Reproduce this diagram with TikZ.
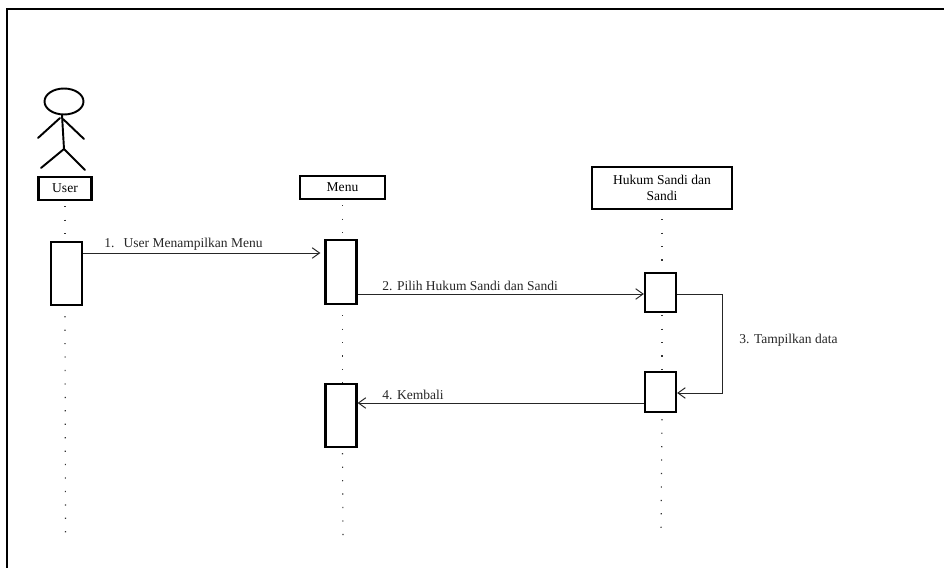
\documentclass[tikz,border=0pt]{standalone}
\usepackage{fontspec}
\setmainfont{Liberation Serif}
\usetikzlibrary{arrows.meta,positioning,shapes.geometric}

\begin{document}
\begin{tikzpicture}[x=0.02cm, y=-0.02cm, >={Straight Barb[length=4.2pt,width=6pt]},
  objbox/.style={draw, line width=1.3pt, inner sep=0pt, align=center, font=\fontsize{7.7}{8.7}\selectfont},
  actbox/.style={draw, line width=1.3pt, fill=white, inner sep=0pt, minimum width=0.62cm},
  msg/.style={->, line width=0.55pt, draw=black!85},
  lifeline/.style={line width=0.65pt, draw=black!80, dash pattern=on 0.7pt off 6.95pt},
  msglabel/.style={anchor=west, inner sep=0pt, font=\fontsize{7.7}{9}\selectfont, text=black!85},
  stick/.style={line width=1.1pt, line cap=round}]
\useasboundingbox (0,0) rectangle (944,568);
% frame
\coordinate (frameTL) at (7,9);
\coordinate (frameR) at (944,9);
\coordinate (frameB) at (7,568);
\draw[line width=1.2pt] (frameB) -- (frameTL) -- (frameR);
% actor
\node (head) [draw, ellipse, line width=1.1pt, minimum width=0.78cm, minimum height=0.52cm, inner sep=0pt] at (64,101.5) {};
\coordinate (neck) at (62,115);
\coordinate (hip) at (64,149);
\coordinate (armL) at (38,138);
\coordinate (armR) at (84,139);
\coordinate (armLTop) at (60,118);
\coordinate (armRTop) at (63,119);
\coordinate (legL) at (41,168);
\coordinate (legR) at (85,170);
\draw[stick] (neck) -- (hip);
\draw[stick] (armL) -- (armLTop);
\draw[stick] (armR) -- (armRTop);
\draw[stick] (legL) -- (hip) -- (legR);
% objects
\node (user) [objbox, minimum width=1.06cm, minimum height=0.46cm] at (65,188.5) {User};
\node (menu) [objbox, minimum width=1.7cm, minimum height=0.46cm] at (342.5,187.5) {Menu};
\node (hukum) [objbox, minimum width=2.8cm, minimum height=0.84cm] at (662,188) {Hukum Sandi dan\\Sandi};
% activations
\node (userAct) [actbox, minimum height=1.26cm] at (66.5,273.5) {};
\node (menuAct) [actbox, minimum height=1.28cm] at (341,272) {};
\node (hukumAct) [actbox, minimum height=0.78cm] at (660.5,292.5) {};
\node (hukumBack) [actbox, minimum height=0.8cm] at (660.5,392) {};
\node (menuBack) [actbox, minimum height=1.26cm] at (341,415.5) {};
% lifelines
\coordinate (userEnd) at (65.5,535);
\coordinate (menuEnd) at (343,535);
\coordinate (hukumEnd) at (661,535);
\draw[lifeline] ([yshift=-0.1cm]user.south) -- (user.south |- userAct.north);
\draw[lifeline] ([yshift=-0.2cm]user.south |- userAct.south) -- (userEnd);
\draw[lifeline] ([yshift=-0.1cm]menu.south) -- (menu.south |- menuAct.north);
\draw[lifeline] ([yshift=-0.2cm]menu.south |- menuAct.south) -- (menu.south |- menuBack.north);
\draw[lifeline] ([yshift=-0.1cm]menu.south |- menuBack.south) -- (menuEnd);
\draw[lifeline] ([yshift=-0.18cm]hukum.south) -- (hukum.south |- hukumAct.north);
\draw[lifeline] ([yshift=-0.04cm]hukum.south |- hukumAct.south) -- (hukum.south |- hukumBack.north);
\draw[lifeline] ([yshift=-0.12cm]hukum.south |- hukumBack.south) -- (hukumEnd);
% messages
\coordinate (levelOne) at (0,253);
\coordinate (levelTwo) at (0,294);
\coordinate (levelFour) at (0,403);
\coordinate (turnTop) at (722,294);
\coordinate (turnBot) at (722,393);
\draw[msg] (userAct.east |- levelOne) -- ([xshift=-0.08cm]menuAct.west |- levelOne);
\draw[msg] (menuAct.east |- levelTwo) -- (hukumAct.west |- levelTwo);
\draw[msg] (hukumAct.east |- turnTop) -- (turnTop) -- (turnBot) -- (hukumBack.east |- turnBot);
\draw[msg] (hukumBack.west |- levelFour) -- (menuBack.east |- levelFour);
% labels
\node (lblOne) [msglabel] at (104,244.5) {1.\hspace{5.2pt}User Menampilkan Menu};
\node (lblTwo) [msglabel] at (382,285.5) {2. Pilih Hukum Sandi dan Sandi};
\node (lblThree) [msglabel] at (739,340.5) {3. Tampilkan data};
\node (lblFour) [msglabel] at (382,394.5) {4. Kembali};
\end{tikzpicture}
\end{document}
